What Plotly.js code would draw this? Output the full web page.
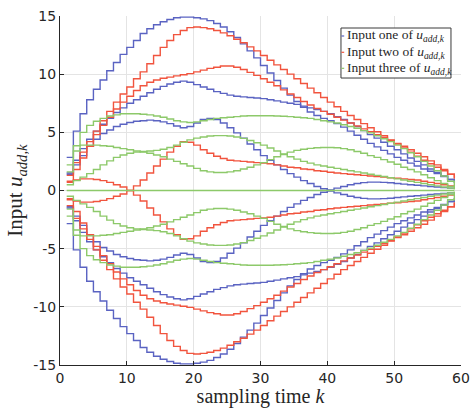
<!DOCTYPE html>
<html>
<head>
<meta charset="utf-8">
<script src="https://cdn.plot.ly/plotly-3.0.1.min.js"></script>
<style>html,body{margin:0;padding:0;background:#fff;}#chart{width:472px;height:408px;}</style>
</head>
<body>
<div id="chart"></div>
<script>
// sampling time k
const K = [1,2,3,4,5,6,7,8,9,10,11,12,13,14,15,16,17,18,19,20,21,22,23,24,25,26,27,28,29,30,
31,32,33,34,35,36,37,38,39,40,41,42,43,44,45,46,47,48,49,50,51,52,53,54,55,56,57,58,59];

// tick labels
const xTickVals = [0, 10, 20, 30, 40, 50, 60];
const xTickText = ['0', '10', '20', '30', '40', '50', '60'];
const yTickVals = [-15, -10, -5, 0, 5, 10, 15];
const yTickText = ['-15', '-10', '-5', '0', '5', '10', '15'];

// Input one (blue) trajectories
const B1 = [2.85,5.1,6.6,7.8,8.7,9.5,10.3,11.0,11.7,12.3,12.9,13.5,13.9,14.25,14.5,14.7,14.85,14.9,14.9,14.85,
14.75,14.6,14.35,14.05,13.65,13.15,12.6,12.0,11.4,10.75,10.1,9.45,8.8,8.2,7.65,7.15,6.75,6.45,6.2,6.0,
5.75,5.45,5.1,4.75,4.4,4.05,3.75,3.45,3.15,2.85,2.6,2.35,2.1,1.85,1.65,1.45,1.2,0.95,0.7];
const B1n = [-2.85,-5.1,-6.6,-7.8,-8.7,-9.5,-10.3,-11.0,-11.7,-12.3,-12.9,-13.5,-13.9,-14.25,-14.5,-14.7,-14.85,-14.9,-14.9,-14.85,
-14.75,-14.6,-14.35,-14.05,-13.65,-13.15,-12.6,-12.0,-11.4,-10.75,-10.1,-9.45,-8.8,-8.2,-7.65,-7.15,-6.75,-6.45,-6.2,-6.0,
-5.75,-5.45,-5.1,-4.75,-4.4,-4.05,-3.75,-3.45,-3.15,-2.85,-2.6,-2.35,-2.1,-1.85,-1.65,-1.45,-1.2,-0.95,-0.7];
const B2 = [1.5,2.6,3.6,4.4,5.1,5.7,6.2,6.7,7.1,7.5,7.8,8.1,8.4,8.7,8.95,9.15,9.3,9.4,9.3,9.1,
8.9,8.7,8.5,8.35,8.2,8.1,8.05,8.0,7.95,7.9,7.8,7.7,7.6,7.5,7.4,7.25,7.1,6.95,6.8,6.6,
6.35,6.1,5.8,5.5,5.15,4.8,4.5,4.15,3.8,3.5,3.15,2.8,2.5,2.2,1.85,1.55,1.25,0.95,0.65];
const B2n = [-1.5,-2.6,-3.6,-4.4,-5.1,-5.7,-6.2,-6.7,-7.1,-7.5,-7.8,-8.1,-8.4,-8.7,-8.95,-9.15,-9.3,-9.4,-9.3,-9.1,
-8.9,-8.7,-8.5,-8.35,-8.2,-8.1,-8.05,-8.0,-7.95,-7.9,-7.8,-7.7,-7.6,-7.5,-7.4,-7.25,-7.1,-6.95,-6.8,-6.6,
-6.35,-6.1,-5.8,-5.5,-5.15,-4.8,-4.5,-4.15,-3.8,-3.5,-3.15,-2.8,-2.5,-2.2,-1.85,-1.55,-1.25,-0.95,-0.65];
const B3 = [1.4,2.2,3.0,3.8,4.4,4.9,5.2,5.5,5.7,5.85,5.95,6.0,6.05,6.0,5.9,5.75,5.55,5.4,5.5,5.8,
6.1,6.2,6.1,5.8,5.4,4.95,4.5,4.0,3.5,3.0,2.6,2.2,1.8,1.45,1.15,0.85,0.6,0.35,0.15,-0.05,
-0.2,-0.35,-0.5,-0.6,-0.68,-0.72,-0.72,-0.7,-0.66,-0.6,-0.55,-0.5,-0.45,-0.4,-0.35,-0.3,-0.25,-0.2,-0.15];
const B3n = [-1.4,-2.2,-3.0,-3.8,-4.4,-4.9,-5.2,-5.5,-5.7,-5.85,-5.95,-6.0,-6.05,-6.0,-5.9,-5.75,-5.55,-5.4,-5.5,-5.8,
-6.1,-6.2,-6.1,-5.8,-5.4,-4.95,-4.5,-4.0,-3.5,-3.0,-2.6,-2.2,-1.8,-1.45,-1.15,-0.85,-0.6,-0.35,-0.15,0.05,
0.2,0.35,0.5,0.6,0.68,0.72,0.72,0.7,0.66,0.6,0.55,0.5,0.45,0.4,0.35,0.3,0.25,0.2,0.15];

// Input two (red) trajectories
const R1 = [1.3,2.4,3.3,4.2,5.1,6.0,6.8,7.6,8.3,8.9,9.6,10.2,10.9,11.6,12.3,12.9,13.4,13.75,14.0,14.05,
14.0,13.9,13.75,13.55,13.3,13.0,12.7,12.35,12.0,11.6,11.2,10.8,10.4,10.0,9.6,9.2,8.8,8.4,8.0,7.6,
7.2,6.8,6.45,6.1,5.75,5.4,5.05,4.7,4.35,4.0,3.65,3.3,2.95,2.6,2.3,2.0,1.7,1.4,1.1];
const R1n = [-1.3,-2.4,-3.3,-4.2,-5.1,-6.0,-6.8,-7.6,-8.3,-8.9,-9.6,-10.2,-10.9,-11.6,-12.3,-12.9,-13.4,-13.75,-14.0,-14.05,
-14.0,-13.9,-13.75,-13.55,-13.3,-13.0,-12.7,-12.35,-12.0,-11.6,-11.2,-10.8,-10.4,-10.0,-9.6,-9.2,-8.8,-8.4,-8.0,-7.6,
-7.2,-6.8,-6.45,-6.1,-5.75,-5.4,-5.05,-4.7,-4.35,-4.0,-3.65,-3.3,-2.95,-2.6,-2.3,-2.0,-1.7,-1.4,-1.1];
const R2 = [0.7,1.8,2.8,3.8,4.8,5.6,6.3,7.0,7.6,8.1,8.6,9.0,9.3,9.5,9.65,9.75,9.85,9.95,10.05,10.2,
10.35,10.5,10.6,10.7,10.7,10.6,10.4,10.15,9.9,9.6,9.3,9.0,8.65,8.3,8.0,7.65,7.35,7.05,6.8,6.55,
6.3,6.05,5.8,5.55,5.3,5.05,4.8,4.55,4.3,4.05,3.8,3.5,3.2,2.9,2.55,2.2,1.8,1.4,1.0];
const R2n = [-0.7,-1.8,-2.8,-3.8,-4.8,-5.6,-6.3,-7.0,-7.6,-8.1,-8.6,-9.0,-9.3,-9.5,-9.65,-9.75,-9.85,-9.95,-10.05,-10.2,
-10.35,-10.5,-10.6,-10.7,-10.7,-10.6,-10.4,-10.15,-9.9,-9.6,-9.3,-9.0,-8.65,-8.3,-8.0,-7.65,-7.35,-7.05,-6.8,-6.55,
-6.3,-6.05,-5.8,-5.55,-5.3,-5.05,-4.8,-4.55,-4.3,-4.05,-3.8,-3.5,-3.2,-2.9,-2.55,-2.2,-1.8,-1.4,-1.0];
const R3 = [-0.8,-0.9,-1.0,-1.0,-0.95,-0.85,-0.7,-0.5,-0.3,0.0,0.4,0.9,1.5,2.1,2.7,3.3,3.8,4.2,4.15,3.9,
3.5,3.2,2.95,2.75,2.6,2.55,2.5,2.45,2.4,2.35,2.3,2.2,2.1,2.0,1.95,1.85,1.8,1.7,1.65,1.57,
1.5,1.45,1.4,1.35,1.3,1.25,1.2,1.15,1.1,1.05,1.0,0.95,0.9,0.8,0.7,0.6,0.5,0.4,0.3];
const R3n = [0.8,0.9,1.0,1.0,0.95,0.85,0.7,0.5,0.3,0.0,-0.4,-0.9,-1.5,-2.1,-2.7,-3.3,-3.8,-4.2,-4.15,-3.9,
-3.5,-3.2,-2.95,-2.75,-2.6,-2.55,-2.5,-2.45,-2.4,-2.35,-2.3,-2.2,-2.1,-2.0,-1.95,-1.85,-1.8,-1.7,-1.65,-1.57,
-1.5,-1.45,-1.4,-1.35,-1.3,-1.25,-1.2,-1.15,-1.1,-1.05,-1.0,-0.95,-0.9,-0.8,-0.7,-0.6,-0.5,-0.4,-0.3];

// Input three (green) trajectories
const G1 = [1.6,3.4,5.0,5.6,5.95,6.2,6.4,6.5,6.6,6.6,6.6,6.55,6.5,6.4,6.3,6.15,6.0,5.9,5.85,5.9,
6.0,6.1,6.2,6.25,6.3,6.35,6.4,6.42,6.43,6.43,6.42,6.4,6.38,6.35,6.3,6.25,6.2,6.1,6.0,5.9,
5.8,5.65,5.5,5.35,5.15,4.95,4.7,4.45,4.2,3.9,3.6,3.25,2.9,2.5,2.1,1.7,1.25,0.8,0.35];
const G1n = [-1.6,-3.4,-5.0,-5.6,-5.95,-6.2,-6.4,-6.5,-6.6,-6.6,-6.6,-6.55,-6.5,-6.4,-6.3,-6.15,-6.0,-5.9,-5.85,-5.9,
-6.0,-6.1,-6.2,-6.25,-6.3,-6.35,-6.4,-6.42,-6.43,-6.43,-6.42,-6.4,-6.38,-6.35,-6.3,-6.25,-6.2,-6.1,-6.0,-5.9,
-5.8,-5.65,-5.5,-5.35,-5.15,-4.95,-4.7,-4.45,-4.2,-3.9,-3.6,-3.25,-2.9,-2.5,-2.1,-1.7,-1.25,-0.8,-0.35];
const G2 = [2.2,3.85,3.9,3.9,3.9,3.85,3.8,3.7,3.6,3.5,3.4,3.3,3.2,3.05,2.9,2.7,2.5,2.3,2.1,1.9,
1.7,1.6,1.55,1.55,1.6,1.7,1.85,2.0,2.2,2.4,2.65,2.9,3.1,3.3,3.45,3.55,3.62,3.68,3.7,3.7,
3.68,3.6,3.5,3.35,3.2,3.0,2.85,2.65,2.45,2.25,2.0,1.8,1.6,1.35,1.1,0.85,0.6,0.35,0.1];
const G2n = [-2.2,-3.85,-3.9,-3.9,-3.9,-3.85,-3.8,-3.7,-3.6,-3.5,-3.4,-3.3,-3.2,-3.05,-2.9,-2.7,-2.5,-2.3,-2.1,-1.9,
-1.7,-1.6,-1.55,-1.55,-1.6,-1.7,-1.85,-2.0,-2.2,-2.4,-2.65,-2.9,-3.1,-3.3,-3.45,-3.55,-3.62,-3.68,-3.7,-3.7,
-3.68,-3.6,-3.5,-3.35,-3.2,-3.0,-2.85,-2.65,-2.45,-2.25,-2.0,-1.8,-1.6,-1.35,-1.1,-0.85,-0.6,-0.35,-0.1];
const G3 = [0.5,0.85,1.15,1.45,1.8,2.2,2.55,2.85,3.05,3.2,3.3,3.35,3.4,3.45,3.55,3.7,3.9,4.15,4.35,4.5,
4.6,4.68,4.72,4.72,4.68,4.6,4.48,4.3,4.1,3.9,3.65,3.4,3.15,2.9,2.7,2.5,2.35,2.2,2.1,2.0,
1.9,1.8,1.7,1.6,1.5,1.4,1.3,1.2,1.1,1.0,0.9,0.8,0.7,0.6,0.5,0.4,0.3,0.2,0.1];
const G3n = [-0.5,-0.85,-1.15,-1.45,-1.8,-2.2,-2.55,-2.85,-3.05,-3.2,-3.3,-3.35,-3.4,-3.45,-3.55,-3.7,-3.9,-4.15,-4.35,-4.5,
-4.6,-4.68,-4.72,-4.72,-4.68,-4.6,-4.48,-4.3,-4.1,-3.9,-3.65,-3.4,-3.15,-2.9,-2.7,-2.5,-2.35,-2.2,-2.1,-2.0,
-1.9,-1.8,-1.7,-1.6,-1.5,-1.4,-1.3,-1.2,-1.1,-1.0,-0.9,-0.8,-0.7,-0.6,-0.5,-0.4,-0.3,-0.2,-0.1];
const G0 = [0,0,0,0,0,0,0,0,0,0,0,0,0,0,0,0,0,0,0,0,0,0,0,0,0,0,0,0,0,0,
0,0,0,0,0,0,0,0,0,0,0,0,0,0,0,0,0,0,0,0,0,0,0,0,0,0,0,0,0];

const seriesNames = ['Input one of <i>u</i><sub><i>add,k</i></sub>',
                     'Input two of <i>u</i><sub><i>add,k</i></sub>',
                     'Input three of <i>u</i><sub><i>add,k</i></sub>'];
const colors = ['#5a63c2', '#f1543e', '#8dc96a'];
const groups = [[B1, B1n, B2, B2n, B3, B3n], [R1, R1n, R2, R2n, R3, R3n], [G1, G1n, G2, G2n, G3, G3n, G0]];

const traces = [];
groups.forEach((grp, gi) => {
  grp.forEach((ys) => {
    traces.push({x: K, y: ys, type: 'scatter', mode: 'lines',
      line: {shape: 'hv', color: colors[gi], width: 1.4},
      showlegend: false, hoverinfo: 'skip'});
  });
});

// custom legend (box at upper right of the axes)
const lx0 = 0.7007, lx1 = 0.975, ly0 = 0.8223, ly1 = 0.9656;
const rowY = [0.9427, 0.896, 0.8501];
const shapes = [{type: 'rect', xref: 'paper', yref: 'paper', x0: lx0, x1: lx1, y0: ly0, y1: ly1,
  line: {color: '#3a3a3a', width: 1}, fillcolor: 'rgba(255,255,255,1)', layer: 'above'}];
const annotations = [];
seriesNames.forEach((nm, i) => {
  shapes.push({type: 'line', xref: 'paper', yref: 'paper', x0: lx0 + 0.001, x1: lx0 + 0.008,
    y0: rowY[i], y1: rowY[i], line: {color: colors[i], width: 1.2}, layer: 'above'});
  annotations.push({xref: 'paper', yref: 'paper', x: lx0 + 0.009, y: rowY[i], xanchor: 'left', yanchor: 'middle',
    text: nm, showarrow: false, font: {family: 'Liberation Serif, serif', size: 13.5, color: '#262626'}});
});

const axisCommon = {showline: true, linecolor: '#262626', linewidth: 1, mirror: false,
  ticks: 'inside', ticklen: 4, tickcolor: '#262626', showgrid: true, gridcolor: '#e4e4e4', gridwidth: 1,
  zeroline: false, tickfont: {family: 'DejaVu Sans, sans-serif', size: 14, color: '#262626'}};

const layout = {
  width: 472, height: 408,
  margin: {l: 60, r: 11, t: 16, b: 43},
  paper_bgcolor: '#ffffff', plot_bgcolor: '#ffffff',
  showlegend: false,
  xaxis: Object.assign({}, axisCommon, {range: [0, 60], tickmode: 'array', tickvals: xTickVals, ticktext: xTickText,
    title: {text: 'sampling time <i>k</i>', font: {family: 'Liberation Serif, serif', size: 20, color: '#262626'}, standoff: 6}}),
  yaxis: Object.assign({}, axisCommon, {range: [-15, 15], tickmode: 'array', tickvals: yTickVals, ticktext: yTickText,
    title: {text: 'Input <i>u</i><sub><i>add,k</i></sub>', font: {family: 'Liberation Serif, serif', size: 21, color: '#262626'}, standoff: 4}}),
  shapes: shapes,
  annotations: annotations
};

Plotly.newPlot('chart', traces, layout, {staticPlot: true, displayModeBar: false});
</script>
</body>
</html>
